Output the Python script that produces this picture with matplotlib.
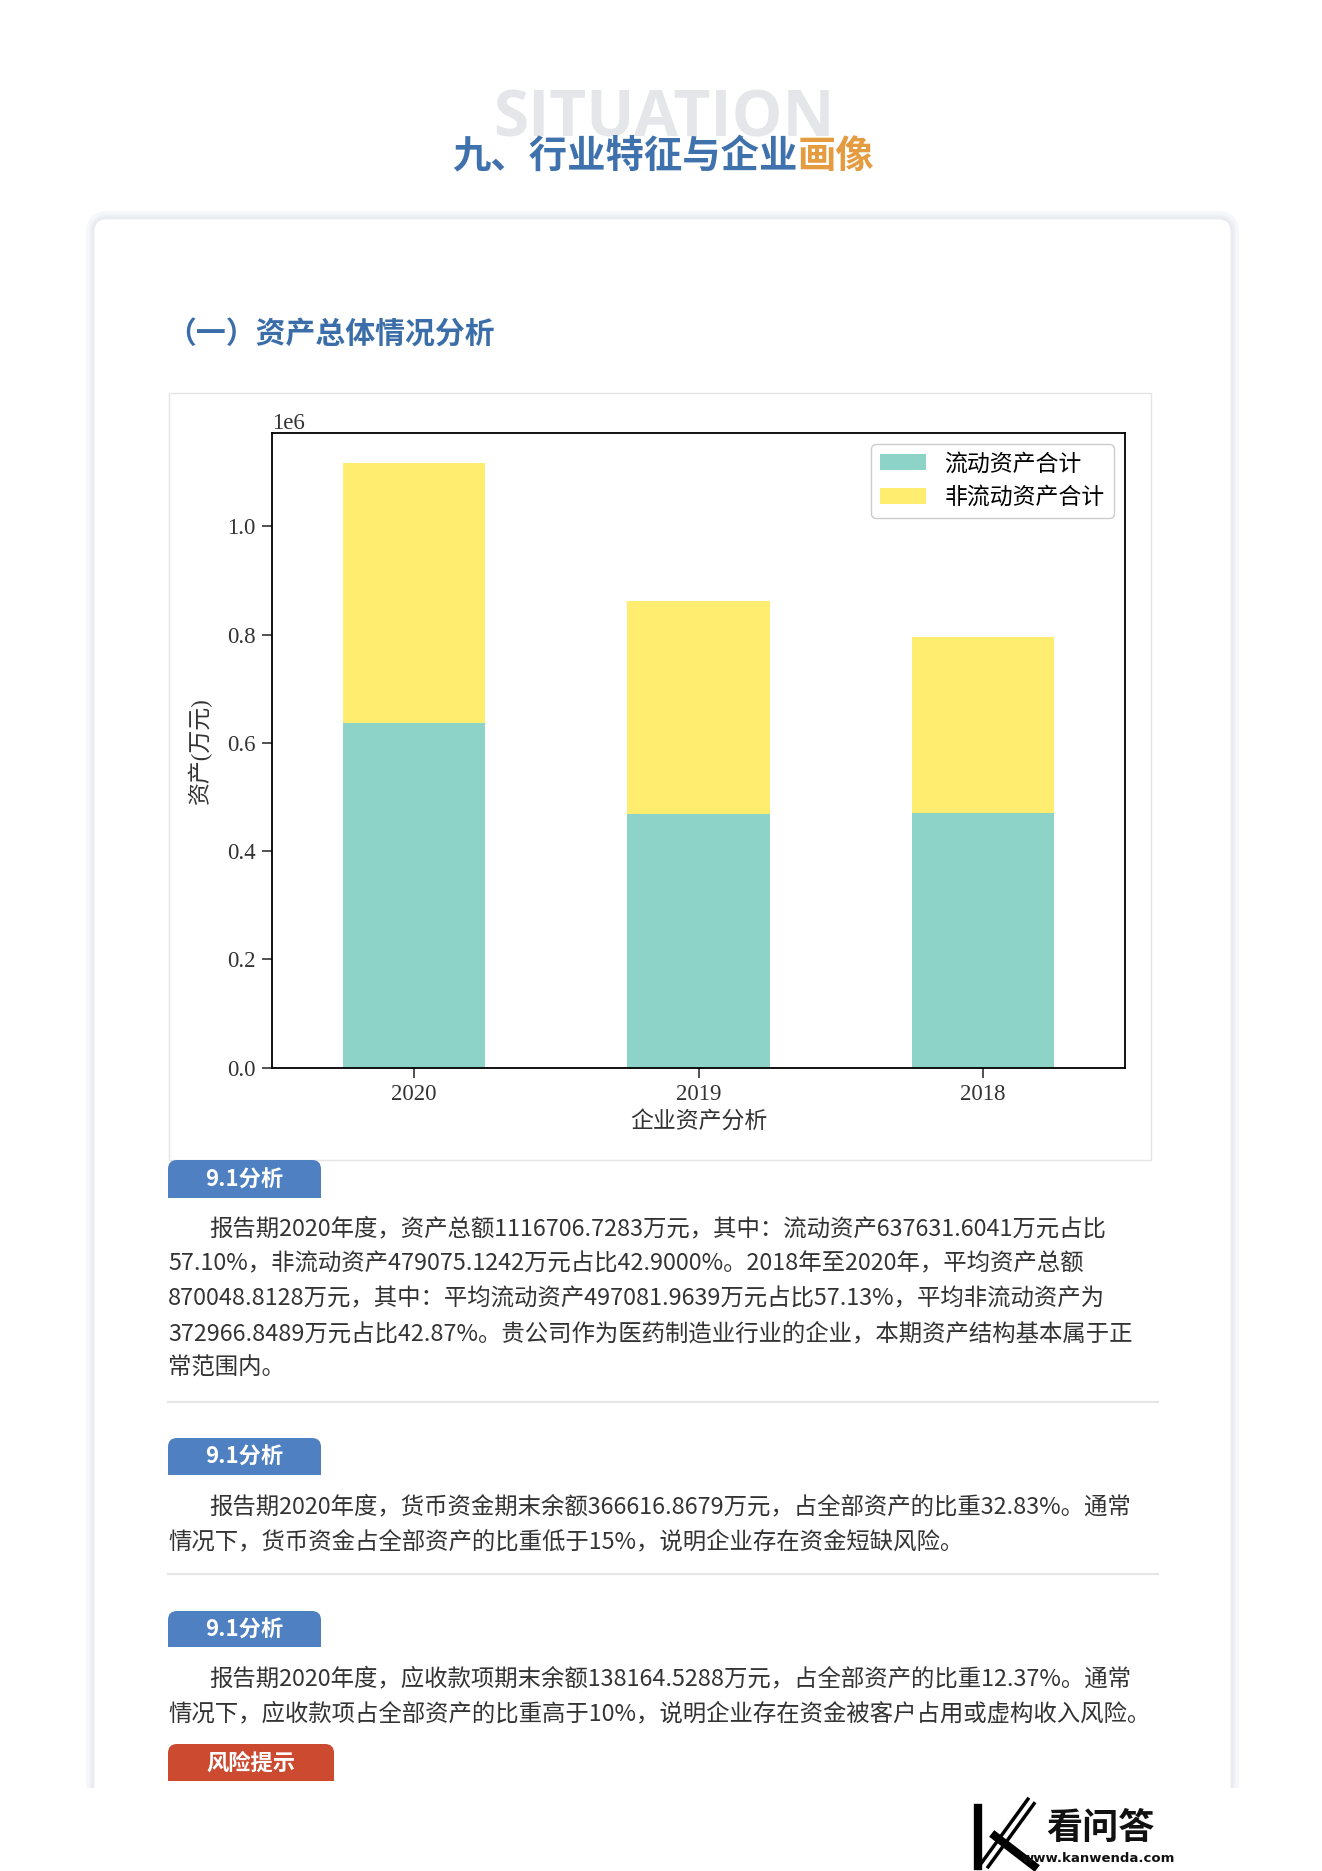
import matplotlib
matplotlib.use("Agg")
import matplotlib.pyplot as plt
from matplotlib.patches import FancyBboxPatch, Rectangle

# chart data (万元)
years = ["2020", "2019", "2018"]
current_assets = [637631.6041, 468000, 470000]
noncurrent_assets = [479075.1242, 394000, 325000]
series_names = ["流动资产合计", "非流动资产合计"]
series_colors = ["#8dd3c7", "#ffed6f"]

# page texts
para1 = ["报告期2020年度，资产总额1116706.7283万元，其中：流动资产637631.6041万元占比",
         "57.10%，非流动资产479075.1242万元占比42.9000%。2018年至2020年，平均资产总额",
         "870048.8128万元，其中：平均流动资产497081.9639万元占比57.13%，平均非流动资产为",
         "372966.8489万元占比42.87%。贵公司作为医药制造业行业的企业，本期资产结构基本属于正",
         "常范围内。"]
para2 = ["报告期2020年度，货币资金期末余额366616.8679万元，占全部资产的比重32.83%。通常",
         "情况下，货币资金占全部资产的比重低于15%，说明企业存在资金短缺风险。"]
para3 = ["报告期2020年度，应收款项期末余额138164.5288万元，占全部资产的比重12.37%。通常",
         "情况下，应收款项占全部资产的比重高于10%，说明企业存在资金被客户占用或虚构收入风险。"]

cjk = ["Noto Sans CJK SC", "DejaVu Sans"]
W, H = 1322, 1871
fig = plt.figure(figsize=(W / 100, H / 100), dpi=100)

# page layer in pixel coords
bg = fig.add_axes([0, 0, 1, 1])
bg.set_xlim(0, W)
bg.set_ylim(H, 0)
bg.axis("off")

# card with soft shadow
for lw, c in [(10, "#f6f7fa"), (5, "#eff1f6"), (2, "#e9ebf1")]:
    bg.add_patch(FancyBboxPatch((93, 218), 1139, 1700, boxstyle="round,pad=0,rounding_size=14",
                                fc="white", ec=c, lw=lw))
bg.add_patch(Rectangle((0, 1788), W, 90, fc="white", ec="none", zorder=3))

bg.text(664, 136, "SITUATION", family="Open Sans", weight="bold", fontsize=46,
        color="#e4e6ea", ha="center", va="baseline")
t1 = bg.text(452, 156, "九、行业特征与企业", family=cjk, weight="bold", fontsize=27.6,
             color="#3f72ad", ha="left", va="center")
bg.annotate("画像", xy=(1, 0.5), xycoords=t1, family=cjk, weight="bold", fontsize=27.6,
            color="#e59b3f", ha="left", va="center")
bg.text(166, 335, "（一）资产总体情况分析", family=cjk, weight="bold", fontsize=21.5,
        color="#3b6ea8", ha="left", va="center")

# chart frame
bg.add_patch(Rectangle((169, 393), 982, 767, fc="white", ec="#e4e4e4", lw=1))


def badge(x0, y0, w, h, color, label):
    bg.add_patch(FancyBboxPatch((x0, y0), w, h, boxstyle="round,pad=0,rounding_size=9",
                                fc=color, ec="none", zorder=4))
    bg.add_patch(Rectangle((x0, y0 + h / 2), w, h / 2, fc=color, ec="none", zorder=4))
    bg.text(x0 + w / 2, y0 + h / 2 + 1, label, family=cjk, weight="bold", fontsize=16,
            color="white", ha="center", va="center", zorder=5)


def paragraph(lines, y0):
    for i, line in enumerate(lines):
        x = 209 if i == 0 else 168
        bg.text(x, y0 + i * 34.9, line, family=cjk, weight="medium", fontsize=16.85,
                color="#333333", ha="left", va="center")


badge(168, 1160, 153, 38, "#4f80c1", "9.1分析")
paragraph(para1, 1229)
bg.plot([168, 1158], [1402, 1402], color="#e6e6e6", lw=1.5)
badge(168, 1438, 153, 37, "#4f80c1", "9.1分析")
paragraph(para2, 1507)
bg.plot([168, 1158], [1574, 1574], color="#e6e6e6", lw=1.5)
badge(168, 1611, 153, 36, "#4f80c1", "9.1分析")
paragraph(para3, 1679)
badge(168, 1744, 166, 37, "#cc4a30", "风险提示")

# watermark
bg.plot([984, 1032], [1866, 1800], color="black", lw=8, solid_capstyle="butt", zorder=6)
bg.plot([984, 1032], [1866, 1800], color="white", lw=3, zorder=6)
bg.plot([978, 978], [1808, 1866], color="black", lw=6, zorder=6)
bg.plot([995, 1034], [1836, 1866], color="black", lw=6, zorder=6)
bg.text(1100, 1828, "看问答", family=cjk, weight="bold", fontsize=26, color="#111111",
        ha="center", va="center", zorder=6)
bg.text(1022, 1859, "www.kanwenda.com", family="DejaVu Sans", weight="bold", fontsize=9.5,
        color="#111111", ha="left", va="center", zorder=6)

# the chart
plt.rcParams["font.family"] = ["Liberation Serif", "Noto Sans CJK SC"]
ax = fig.add_axes([272 / W, 1 - 1067.7 / H, 853 / W, 634.7 / H])
x = range(len(years))
ax.bar(x, current_assets, 0.5, color=series_colors[0], label=series_names[0])
ax.bar(x, noncurrent_assets, 0.5, bottom=current_assets, color=series_colors[1],
       label=series_names[1])
ax.set_xlim(-0.5, 2.5)
ax.set_xticks(list(x))
ax.set_xticklabels(years)
ax.tick_params(labelsize=16.5, length=7, width=1.2, pad=5, colors="#333333")
ax.yaxis.get_offset_text().set_fontsize(16.5)
for s in ax.spines.values():
    s.set_linewidth(1.3)
ax.set_ylabel("资产(万元)", fontsize=16.5, color="#333333", labelpad=11)
ax.set_xlabel("企业资产分析", fontsize=16.5, color="#333333")
ax.legend(loc="upper right", fontsize=16.5, edgecolor="#cccccc", framealpha=1)

fig.savefig("out.png", dpi=100)
